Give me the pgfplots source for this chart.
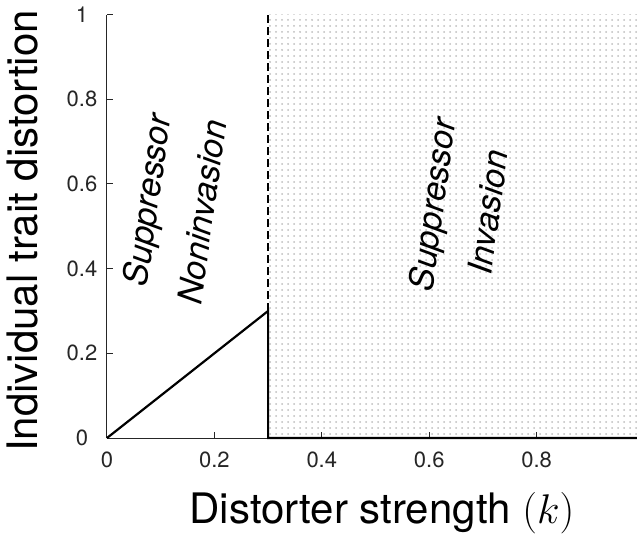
\documentclass[border=0pt]{standalone}
\usepackage{pgfplots}
\pgfplotsset{compat=1.18}
\usetikzlibrary{patterns}
\usepackage{fontspec}
\setmainfont{TeX Gyre Heros}
\definecolor{axgray}{HTML}{262626}
\begin{document}
\begin{tikzpicture}
\useasboundingbox (0,0) rectangle (318.5pt,268pt);
\begin{axis}[
  at={(53.5pt,49pt)}, anchor=south west,
  scale only axis, width=268.5pt, height=211.7pt,
  xmin=0, xmax=1, ymin=0, ymax=1,
  axis x line=bottom, axis y line=left,
  axis line style={-, axgray, line width=0.5pt},
  tick style={axgray, line width=0.5pt},
  tick align=inside, major tick length=3pt,
  xtick={0,0.2,0.4,0.6,0.8,1}, ytick={0,0.2,0.4,0.6,0.8,1},
  /pgf/number format/assume math mode=true,
  ticklabel style={font=\fontsize{11}{13}\selectfont, text=axgray},
  xticklabel style={anchor=center, yshift=-11pt},
  yticklabel style={anchor=center, xshift=-12.5pt},
  xlabel={Distorter strength $(k)$},
  xlabel style={at={(axis description cs:0.512,-0.2008)}, anchor=base, font=\fontsize{21}{25}\selectfont},
  ylabel={Individual trait distortion},
  ylabel style={at={(axis description cs:-0.130,0.489)}, anchor=base, rotate=0, font=\fontsize{21}{25}\selectfont},
  clip=false,
]
\addplot[draw=none, pattern=dots, pattern color=black!26] coordinates {(0.3,0) (1,0) (1,1) (0.3,1) (0.3,0)};
\addplot[black, line width=0.9pt, dash pattern=on 4pt off 2pt] coordinates {(0.3,0.3) (0.3,1)};
\addplot[black, line width=1.1pt] coordinates {(0,0) (0.3,0.3) (0.3,0) (1,0)};
\node[rotate=82, font=\itshape\fontsize{17}{20}\selectfont] at (axis cs:0.080,0.560) {Suppressor};
\node[rotate=82, font=\itshape\fontsize{17}{20}\selectfont] at (axis cs:0.177,0.534) {Noninvasion};
\node[rotate=82, font=\itshape\fontsize{17}{20}\selectfont] at (axis cs:0.611,0.550) {Suppressor};
\node[rotate=82, font=\itshape\fontsize{17}{20}\selectfont] at (axis cs:0.709,0.534) {Invasion};
\end{axis}
\end{tikzpicture}
\end{document}
